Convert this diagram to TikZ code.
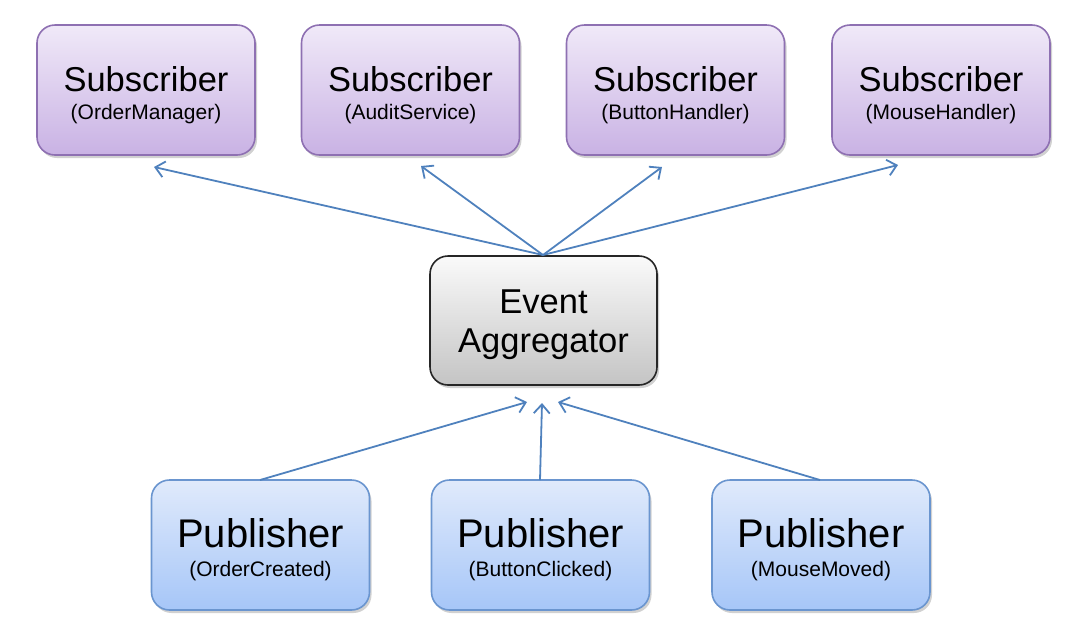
\documentclass[tikz,border=0pt]{standalone}
\usepackage{fontspec}
\setmainfont{Liberation Sans}
\usetikzlibrary{shadows,arrows.meta,calc}
\definecolor{subtop}{HTML}{F0E9F8}
\definecolor{subbot}{HTML}{C9B2E4}
\definecolor{subline}{HTML}{8E70B2}
\definecolor{pubtop}{HTML}{E0EAFB}
\definecolor{pubbot}{HTML}{A6C6F8}
\definecolor{publine}{HTML}{6A95CF}
\definecolor{aggtop}{HTML}{FAFAFA}
\definecolor{aggbot}{HTML}{C4C4C4}
\definecolor{arrcol}{HTML}{4F81BD}
\tikzset{
  box/.style={rounded corners=18pt, line width=1.6pt, minimum width=218pt, minimum height=130pt, inner sep=0pt,
    drop shadow={shadow xshift=2pt, shadow yshift=-3pt, opacity=0.3, fill=black!60}},
  subbox/.style={box, draw=subline, top color=subtop, bottom color=subbot},
  pubbox/.style={box, draw=publine, top color=pubtop, bottom color=pubbot},
  aggbox/.style={box, draw=black!85, top color=aggtop, bottom color=aggbot, minimum width=227pt, minimum height=129pt},
  bigtxt/.style={anchor=base, font=\fontsize{34.5}{34}\selectfont},
  pubtxt/.style={anchor=base, font=\fontsize{40}{40}\selectfont},
  smalltxt/.style={anchor=base, font=\fontsize{21}{21}\selectfont},
  arr/.style={draw=arrcol, line width=1.8pt, -{Straight Barb[length=9pt,width=16pt,line width=1.8pt]}}
}
\begin{document}
\begin{tikzpicture}[x=1pt,y=-1pt]
\useasboundingbox (0,0) rectangle (1083,633);
% subscribers
\node[subbox] (s1) at (146,90) {};
\node[subbox] (s2) at (410.5,90) {};
\node[subbox] (s3) at (675.5,90) {};
\node[subbox] (s4) at (941,90) {};
\node[bigtxt] (s1a) at (146,91) {Subscriber};
\node[bigtxt] (s2a) at (410.5,91) {Subscriber};
\node[bigtxt] (s3a) at (675.5,91) {Subscriber};
\node[bigtxt] (s4a) at (941,91) {Subscriber};
\node[smalltxt] (s1b) at (146,119) {(OrderManager)};
\node[smalltxt] (s2b) at (410.5,119) {(AuditService)};
\node[smalltxt] (s3b) at (675.5,119) {(ButtonHandler)};
\node[smalltxt] (s4b) at (941,119) {(MouseHandler)};
% aggregator
\node[aggbox] (agg) at (543.5,320.5) {};
\node[bigtxt] (agga) at (543.5,313) {Event};
\node[bigtxt] (aggb) at (543.5,352) {Aggregator};
% publishers
\node[pubbox] (p1) at (260.5,545) {};
\node[pubbox] (p2) at (540.5,545) {};
\node[pubbox] (p3) at (821,545) {};
\node[pubtxt] (p1a) at (260.5,547) {Publisher};
\node[pubtxt] (p2a) at (540.5,547) {Publisher};
\node[pubtxt] (p3a) at (821,547) {Publisher};
\node[smalltxt] (p1b) at (260.5,576) {(OrderCreated)};
\node[smalltxt] (p2b) at (540.5,576) {(ButtonClicked)};
\node[smalltxt] (p3b) at (821,576) {(MouseMoved)};
% arrow ends
\coordinate (top) at (543,255);
\coordinate (e1) at (154,167);
\coordinate (e2) at (421,166);
\coordinate (e3) at (662,167);
\coordinate (e4) at (898,165);
\coordinate (q1s) at (260,480);
\coordinate (q2s) at (540,480);
\coordinate (q3s) at (820,480);
\coordinate (q1) at (527,402);
\coordinate (q2) at (542,403);
\coordinate (q3) at (558,402);
\draw[arr] (top) -- (e1);
\draw[arr] (top) -- (e2);
\draw[arr] (top) -- (e3);
\draw[arr] (top) -- (e4);
\draw[arr] (q1s) -- (q1);
\draw[arr] (q2s) -- (q2);
\draw[arr] (q3s) -- (q3);
\end{tikzpicture}
\end{document}
